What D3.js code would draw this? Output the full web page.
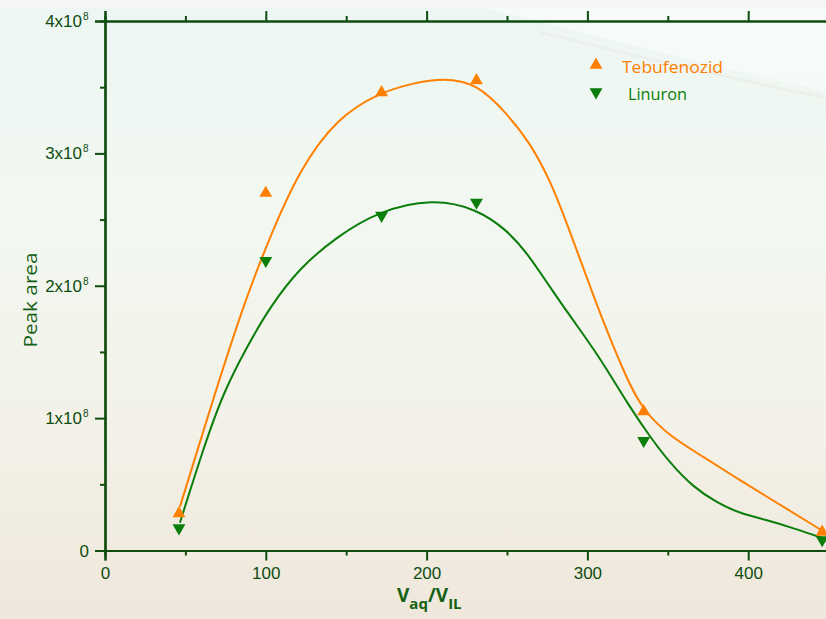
<!DOCTYPE html>
<html><head><meta charset="utf-8">
<script src="https://cdn.jsdelivr.net/npm/d3@7"></script>
<style>
html,body{margin:0;padding:0;overflow:hidden;}
svg{display:block;}
</style></head>
<body>
<script>
// ---- data ----
const xTickValues = [0, 100, 200, 300, 400];
const xMinorTicks = [50, 150, 250, 350];
const yTickValues = [0, 1e8, 2e8, 3e8, 4e8];
const yTickMantissa = ["0", "1", "2", "3", "4"];
const yMinorTicks = [0.5e8, 1.5e8, 2.5e8, 3.5e8];
const seriesNames = ["Tebufenozid", "Linuron"];

const tebX = [46, 100, 172, 231, 335, 446];
const tebY = [0.28e8, 2.70e8, 3.46e8, 3.55e8, 1.05e8, 0.14e8];
const linX = [46, 100, 172, 231, 335, 446];
const linY = [0.17e8, 2.19e8, 2.53e8, 2.63e8, 0.83e8, 0.08e8];

// fitted curves
const tebFitX = [46.6, 68.4, 87.1, 102.6, 120.6, 144.3, 171.0, 191.5, 210.2, 231.3, 250.0, 264.3, 276.7, 287.3, 297.3, 307.8, 324.6, 334.6, 351.4, 371.9, 394.9, 417.9, 446];
const tebFitY = [0.33e8, 1.19e8, 1.89e8, 2.37e8, 2.87e8, 3.27e8, 3.46e8, 3.53e8, 3.57e8, 3.53e8, 3.30e8, 3.08e8, 2.80e8, 2.47e8, 2.14e8, 1.79e8, 1.29e8, 1.06e8, 0.86e8, 0.71e8, 0.53e8, 0.36e8, 0.15e8];
const linFitX = [46.6, 60.9, 73.4, 88.3, 102.6, 121.3, 144.3, 169.2, 204.0, 231.3, 250.0, 262.4, 276.7, 291.0, 306.0, 326.5, 338.9, 351.4, 365.7, 380.6, 394.9, 411.7, 427.9, 446];
const linFitY = [0.21e8, 0.76e8, 1.19e8, 1.54e8, 1.84e8, 2.14e8, 2.37e8, 2.56e8, 2.66e8, 2.58e8, 2.42e8, 2.25e8, 1.99e8, 1.74e8, 1.49e8, 1.08e8, 0.86e8, 0.66e8, 0.48e8, 0.36e8, 0.28e8, 0.23e8, 0.17e8, 0.095e8];

// ---- drawing ----
const W = 826, H = 619;
const axisColor = "#0e4d0e";
const orange = "#ff8000";
const green = "#0a7d0a";
const comic = "'Comic Sans MS', 'Open Sans', sans-serif";

const svg = d3.select("body").append("svg").attr("width", W).attr("height", H);
const defs = svg.append("defs");
const bg = defs.append("linearGradient").attr("id", "bg").attr("x1", 0).attr("y1", 0).attr("x2", 0).attr("y2", 1);
bg.append("stop").attr("offset", "0%").attr("stop-color", "#edf6f4");
bg.append("stop").attr("offset", "35%").attr("stop-color", "#f2f8f1");
bg.append("stop").attr("offset", "70%").attr("stop-color", "#f3f1e8");
bg.append("stop").attr("offset", "100%").attr("stop-color", "#efe7db");
svg.append("rect").attr("width", W).attr("height", H).attr("fill", "url(#bg)");
// light swoosh top-right
svg.append("path").attr("d", "M460,0 C580,35 700,62 826,92 L826,0 Z").attr("fill", "#fafcf9").attr("opacity", 0.7);
svg.append("path").attr("d", "M540,32 C640,58 730,78 826,98").attr("fill", "none").attr("stroke", "#eceee9").attr("stroke-width", 2.5);
svg.append("rect").attr("width", W).attr("height", 8).attr("fill", "#f3f6f4");

const x = d3.scaleLinear().domain([0, 450]).range([105, 828.6]);
const y = d3.scaleLinear().domain([0, 4e8]).range([550.5, 21]);

// axes
const gx = svg.append("g").attr("transform", `translate(0,${y(0)})`)
  .call(d3.axisBottom(x).tickValues(xTickValues).tickSize(10).tickFormat(d3.format("d")).tickPadding(6));
const gxm = svg.append("g").attr("transform", `translate(0,${y(0)})`)
  .call(d3.axisBottom(x).tickValues(xMinorTicks).tickSize(5).tickFormat(""));
const gt = svg.append("g").attr("transform", `translate(0,${y(4e8)})`)
  .call(d3.axisTop(x).tickValues(xTickValues).tickSize(10).tickFormat(""));
const gtm = svg.append("g").attr("transform", `translate(0,${y(4e8)})`)
  .call(d3.axisTop(x).tickValues(xMinorTicks).tickSize(5).tickFormat(""));
const gy = svg.append("g").attr("transform", `translate(${x(0)},0)`)
  .call(d3.axisLeft(y).tickValues(yTickValues).tickSize(10).tickFormat(""));
const gym = svg.append("g").attr("transform", `translate(${x(0)},0)`)
  .call(d3.axisLeft(y).tickValues(yMinorTicks).tickSize(5).tickFormat(""));

[gx, gxm, gt, gtm, gy, gym].forEach(g => {
  g.select(".domain").attr("stroke", axisColor).attr("stroke-width", 2.2);
  g.selectAll(".tick line").attr("stroke", axisColor).attr("stroke-width", 2);
});
gx.selectAll(".tick text").attr("fill", axisColor).attr("font-family", "'Liberation Sans', Arial, sans-serif").attr("font-size", 17);

// y tick labels with superscripts
const yl = svg.append("g");
yTickValues.forEach((v, i) => {
  const t = yl.append("text").attr("x", i === 0 ? 89 : 82).attr("y", y(v) + 6)
    .attr("text-anchor", "end").attr("fill", axisColor)
    .attr("font-family", "'Liberation Sans', Arial, sans-serif").attr("font-size", 17);
  if (i === 0) { t.text("0"); }
  else {
    t.text(yTickMantissa[i] + "x10");
    yl.append("text").attr("x", 83).attr("y", y(v) - 1).attr("fill", axisColor)
      .attr("font-family", "'Liberation Sans', Arial, sans-serif").attr("font-size", 10).text("8");
  }
});

// curves
const line = d3.line().x(d => x(d[0])).y(d => y(d[1])).curve(d3.curveBasis);
svg.append("path").datum(tebFitX.map((v, i) => [v, tebFitY[i]]))
  .attr("d", line).attr("fill", "none").attr("stroke", orange).attr("stroke-width", 2);
svg.append("path").datum(linFitX.map((v, i) => [v, linFitY[i]]))
  .attr("d", line).attr("fill", "none").attr("stroke", green).attr("stroke-width", 2);

// markers
const tri = d3.symbol().type(d3.symbolTriangle).size(72);
svg.append("g").selectAll("path").data(tebX.map((v, i) => [v, tebY[i]])).join("path")
  .attr("d", tri).attr("fill", orange)
  .attr("transform", d => `translate(${x(d[0])},${y(d[1])})`);
svg.append("g").selectAll("path").data(linX.map((v, i) => [v, linY[i]])).join("path")
  .attr("d", tri).attr("fill", green)
  .attr("transform", d => `translate(${x(d[0])},${y(d[1])}) rotate(180)`);

// legend
const leg = svg.append("g");
leg.append("path").attr("d", tri).attr("fill", orange).attr("transform", "translate(596,65)");
leg.append("path").attr("d", tri).attr("fill", green).attr("transform", "translate(596,92) rotate(180)");
leg.append("text").attr("x", 622).attr("y", 73).attr("fill", orange).attr("font-family", comic)
  .attr("font-size", 16).attr("textLength", 101).attr("lengthAdjust", "spacingAndGlyphs").text(seriesNames[0]);
leg.append("text").attr("x", 628).attr("y", 100).attr("fill", green).attr("font-family", comic)
  .attr("font-size", 16).attr("textLength", 59).attr("lengthAdjust", "spacingAndGlyphs").text(seriesNames[1]);

// axis titles
svg.append("text").attr("transform", "translate(37,300) rotate(-90)").attr("text-anchor", "middle")
  .attr("fill", "#146014").attr("font-family", comic).attr("font-size", 19)
  .attr("textLength", 95).attr("lengthAdjust", "spacingAndGlyphs").text("Peak area");

const xt = svg.append("text").attr("x", 397).attr("y", 602).attr("fill", "#146014")
  .attr("font-family", comic).attr("font-size", 19).attr("font-weight", "bold");
xt.append("tspan").text("V");
xt.append("tspan").attr("dy", 7).attr("font-size", 15).text("aq");
xt.append("tspan").attr("dy", -7).text("/V");
xt.append("tspan").attr("dy", 7).attr("font-size", 15).text("IL");
</script>
</body></html>
